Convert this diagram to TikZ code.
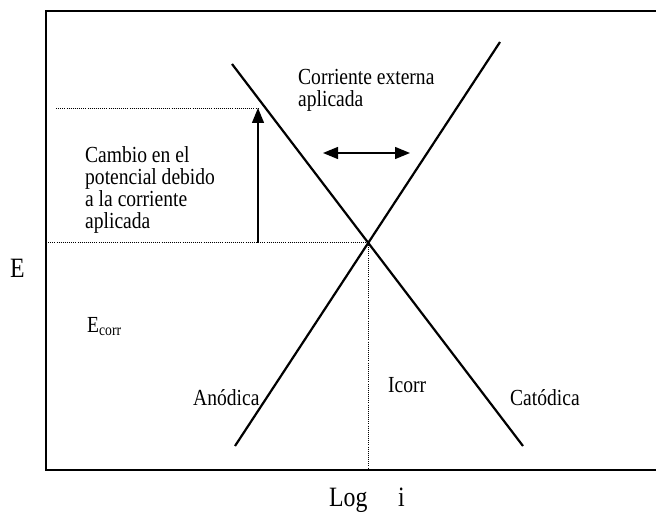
\documentclass[tikz,border=0pt]{standalone}
\usepackage{fontspec}
\setmainfont{Liberation Serif}[FakeStretch=0.85]
\usetikzlibrary{arrows.meta}
\begin{document}
\begin{tikzpicture}[x=1pt,y=-1pt,
  curve/.style={line width=2.2pt},
  frameline/.style={line width=1.5pt},
  guide/.style={line width=0.8pt, dash pattern=on 0.8pt off 1.3pt},
  arr/.style={line width=1.3pt, -{Triangle[length=15pt,width=12pt]}},
  dblarr/.style={line width=1.3pt, {Triangle[length=15pt,width=12pt]}-{Triangle[length=15pt,width=12pt]}},
  lbl/.style={inner sep=0pt, font=\fontsize{23}{22}\selectfont, align=left, anchor=north west},
  slbl/.style={inner sep=0pt, font=\fontsize{23}{22}\selectfont, anchor=base west},
  axlbl/.style={inner sep=0pt, font=\fontsize{28}{30}\selectfont, anchor=base west}]
\useasboundingbox (0,0) rectangle (656,513);
% frame
\coordinate (TL) at (46,11);
\coordinate (TR) at (656,11);
\coordinate (BL) at (46,470);
\coordinate (BR) at (656,470);
\draw[frameline] (TR) -- (TL) -- (BL) -- (BR);
% Tafel lines
\coordinate (A1) at (235,446);
\coordinate (A2) at (500,42);
\coordinate (C1) at (232,64);
\coordinate (C2) at (523,446);
\draw[curve] (A1) -- (A2);
\draw[curve] (C1) -- (C2);
\coordinate (X) at (intersection of A1--A2 and C1--C2);
% guides
\coordinate (EL) at (46,0);
\draw[guide] (EL |- X) -- (X);
\draw[guide] (X) -- (X |- BL);
\coordinate (UL) at (56,108);
\coordinate (UT) at (258,108);
\coordinate (UB) at (258,0);
\draw[guide] (UL) -- (UT);
\draw[arr] (UB |- X) -- (UT);
% external current arrow
\coordinate (H1) at (323,153);
\coordinate (H2) at (410,153);
\draw[dblarr] (H1) -- (H2);
% labels
\node[lbl] (ext) at (298,69) {Corriente externa\\aplicada};
\node[lbl] (cambio) at (85,146) {Cambio en el\\potencial debido\\a la corriente\\aplicada};
\node[slbl] (ecorr) at (87,332) {E\textsubscript{corr}};
\node[slbl] (anod) at (193,405) {Anódica};
\node[slbl] (icorr) at (388,392) {Icorr};
\node[slbl] (catod) at (510,405) {Catódica};
\node[axlbl] (E) at (10,277) {E};
\node[axlbl] (log) at (329,506) {Log};
\node[axlbl] (i) at (398,506) {i};
\end{tikzpicture}
\end{document}
